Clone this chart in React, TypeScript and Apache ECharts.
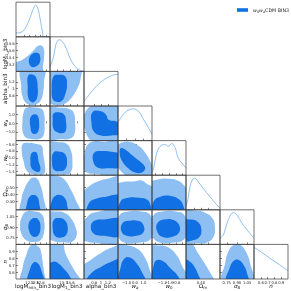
import { useEffect, useRef } from "react";
import * as echarts from "echarts";

const DARK = "#1170e4";
const LIGHT = "#8ebff3";
const LINE = "#74b0ee";
const FONT = "DejaVu Sans";

const L0 = 16, T0 = 2.2, CW = 34, CH = 34.6;

const RANGES: number[][] = [[11.9, 13.15], [13.0, 14.0], [0.5, 1.5], [-2, 2], [-1.5, -0.5], [0.18, 0.68], [0.65, 1.15], [0.5, 1.0]];
const TICKS: number[][] = [[12.2, 12.4, 12.6, 12.8, 13.0], [13.2, 13.4, 13.6, 13.8], [0.8, 1.0, 1.2], [-1, 0, 1], [-1.4, -1.2, -1.0, -0.8, -0.6], [0.3, 0.4, 0.5], [0.75, 0.9, 1.05], [0.6, 0.7, 0.8, 0.9]];
const TICK_LABELS: string[][] = [["12.2", "12.4", "12.6", "12.8", "13"], ["13.2", "13.4", "13.6", "13.8"], ["0.8", "1", "1.2"], ["\u22121.0", "0.0", "1.0"], ["\u22121.4", "\u22121.2", "\u22121.0", "\u22120.8", "\u22120.6"], ["0.30", "0.40", "0.50"], ["0.75", "0.90", "1.05"], ["0.6", "0.7", "0.8", "0.9"]];
const NAMES: string[] = ["{n|logM}{s|min}{n|_bin3}", "{n|logM}{s|1}{n|_bin3}", "{n|alpha_bin3}", "{i|w}{si|a}", "{i|w}{s|0}", "{n|\u03a9}{si|m}", "{i|\u03c3}{s|8}", "{i|n}"];

// 1D marginals
const X0 = [11.9, 12.025, 12.15, 12.275, 12.4, 12.525, 12.625, 12.71, 12.8, 12.875, 12.925, 13.15];
const Y0 = [0.12, 0.13, 0.17, 0.32, 0.56, 0.86, 1.0, 0.88, 0.5, 0.15, 0.0, 0.0];
const X1 = [13.0, 13.1, 13.18, 13.27, 13.44, 13.59, 13.74, 13.88, 14.0];
const Y1 = [0.14, 0.45, 0.87, 1.0, 0.82, 0.41, 0.15, 0.04, 0.0];
const X2 = [0.5, 0.65, 0.8, 1.0, 1.2, 1.35, 1.5];
const Y2 = [0.15, 0.35, 0.55, 0.76, 0.9, 0.97, 1.0];
const X3 = [-2, -1.4, -0.8, -0.2, 0.4, 1.0, 1.6, 2.0];
const Y3 = [0.57, 0.82, 0.96, 1.0, 0.93, 0.67, 0.4, 0.2];
const X4 = [-1.5, -1.46, -1.36, -1.26, -1.12, -1.02, -0.92, -0.82, -0.73, -0.58, -0.5];
const Y4 = [0.1, 0.17, 0.7, 0.91, 0.97, 0.91, 1.0, 0.87, 0.54, 0.33, 0.22];
const X5 = [0.18, 0.21, 0.24, 0.28, 0.31, 0.355, 0.43, 0.53, 0.605, 0.68];
const Y5 = [0.12, 0.35, 0.75, 0.97, 1.0, 0.9, 0.68, 0.42, 0.22, 0.05];
const X6 = [0.65, 0.7, 0.7725, 0.845, 0.895, 0.97, 1.0425, 1.15];
const Y6 = [0.2, 0.3, 0.78, 1.0, 0.94, 0.68, 0.47, 0.2];
const X7 = [0.5, 0.625, 0.75, 0.875, 1.0];
const Y7 = [1.0, 0.82, 0.63, 0.45, 0.26];
const MARG_X = [X0, X1, X2, X3, X4, X5, X6, X7];
const MARG_Y = [Y0, Y1, Y2, Y3, Y4, Y5, Y6, Y7];

// 2D contours: C{row}{col}_95 (outer), _68 (inner)
const C10_95 = [[11.85,13.22],[12.12,13.33],[12.34,13.45],[12.56,13.62],[12.71,13.74],[12.85,13.74],[12.93,13.62],[12.93,13.39],[12.89,13.16],[12.86,12.95],[11.85,12.95]];
const C10_68 = [[12.38,13.24],[12.41,13.42],[12.56,13.53],[12.71,13.53],[12.78,13.45],[12.78,13.27],[12.67,13.16],[12.49,13.13]];
const C20_95 = [[12.1,1.55],[12.93,1.55],[12.93,1.2],[12.9,0.9],[12.8,0.65],[12.63,0.54],[12.43,0.53],[12.25,0.6],[12.13,0.8],[12.09,1.1]];
const C20_68 = [[12.35,1.38],[12.53,1.4],[12.65,1.3],[12.7,1.0],[12.68,0.75],[12.58,0.62],[12.45,0.62],[12.35,0.75],[12.33,1.05]];
const C30_95 = [[12.28,1.8],[12.59,1.84],[12.84,1.68],[12.94,1.0],[12.95,0],[12.93,-1.2],[12.8,-1.76],[12.53,-1.84],[12.28,-1.68],[12.15,-1.0],[12.14,0.2],[12.18,1.28]];
const C30_68 = [[12.45,0.8],[12.59,1.04],[12.71,0.8],[12.75,0],[12.73,-0.8],[12.63,-1.2],[12.49,-1.12],[12.43,-0.4],[12.41,0.32]];
const C40_95 = [[12.15,-0.6],[12.4,-0.57],[12.65,-0.6],[12.84,-0.65],[12.9,-0.9],[12.96,-1.2],[12.94,-1.45],[12.65,-1.48],[12.46,-1.46],[12.28,-1.35],[12.18,-1.1],[12.11,-0.8]];
const C40_68 = [[12.46,-0.88],[12.59,-0.82],[12.68,-0.88],[12.73,-1.1],[12.8,-1.3],[12.75,-1.4],[12.59,-1.38],[12.46,-1.28],[12.43,-1.08]];
const C50_95 = [[12.09,0.15],[12.1,0.33],[12.21,0.48],[12.38,0.605],[12.53,0.645],[12.68,0.63],[12.8,0.53],[12.9,0.38],[12.93,0.15]];
const C50_68 = [[12.3,0.15],[12.31,0.28],[12.4,0.37],[12.53,0.395],[12.68,0.37],[12.75,0.28],[12.75,0.15]];
const C60_95 = [[12.28,1.125],[12.59,1.125],[12.84,1.09],[12.94,0.975],[12.93,0.825],[12.8,0.71],[12.53,0.685],[12.28,0.71],[12.1,0.8],[12.05,0.925],[12.13,1.06]];
const C60_68 = [[12.46,1.01],[12.63,1.03],[12.75,0.99],[12.8,0.9],[12.75,0.8],[12.63,0.76],[12.48,0.775],[12.38,0.85],[12.36,0.94]];
const C70_95 = [[12.1,0.47],[12.15,0.675],[12.28,0.85],[12.43,0.98],[12.59,0.995],[12.73,0.965],[12.8,0.925],[12.88,0.75],[12.93,0.6],[12.94,0.47]];
const C70_68 = [[12.35,0.47],[12.4,0.625],[12.55,0.74],[12.71,0.725],[12.85,0.6],[12.9,0.47]];
const C21_95 = [[12.95,1.55],[13.88,1.55],[13.9,1.3],[13.8,1.0],[13.6,0.7],[13.4,0.55],[13.2,0.52],[13.05,0.55],[12.95,0.6]];
const C21_68 = [[13.1,1.35],[13.25,1.4],[13.45,1.35],[13.5,1.1],[13.45,0.85],[13.35,0.65],[13.2,0.62],[13.08,0.7],[13.05,1.0]];
const C31_95 = [[12.95,1.72],[13.3,1.8],[13.55,1.68],[13.7,1.2],[13.74,0],[13.72,-1.2],[13.6,-1.76],[13.3,-1.84],[12.95,-1.76]];
const C31_68 = [[13.1,1.12],[13.25,1.28],[13.42,1.0],[13.47,0.2],[13.47,-0.8],[13.38,-1.12],[13.2,-1.0],[13.1,-0.6],[13.08,0.4]];
const C41_95 = [[12.95,-0.58],[13.3,-0.55],[13.5,-0.6],[13.62,-0.8],[13.66,-1.1],[13.62,-1.4],[13.5,-1.47],[13.2,-1.48],[12.95,-1.47]];
const C41_68 = [[13.1,-0.85],[13.3,-0.82],[13.45,-0.9],[13.5,-1.1],[13.45,-1.32],[13.3,-1.38],[13.12,-1.35],[13.06,-1.15]];
const C51_95 = [[12.95,0.655],[13.25,0.665],[13.45,0.605],[13.6,0.48],[13.75,0.33],[13.85,0.155],[12.95,0.155]];
const C51_68 = [[13.03,0.155],[13.05,0.305],[13.15,0.38],[13.3,0.395],[13.45,0.34],[13.5,0.255],[13.5,0.155]];
const C61_95 = [[12.95,1.1],[13.2,1.125],[13.45,1.1],[13.62,1.025],[13.75,0.9],[13.78,0.775],[13.65,0.69],[13.35,0.68],[13.1,0.7],[12.95,0.75]];
const C61_68 = [[13.12,1.01],[13.3,1.03],[13.45,0.99],[13.52,0.9],[13.48,0.79],[13.33,0.75],[13.15,0.77],[13.08,0.875]];
const C71_95 = [[12.95,1.03],[13.35,1.03],[13.45,0.875],[13.6,0.725],[13.75,0.6],[13.88,0.47],[12.95,0.47]];
const C71_68 = [[12.95,0.47],[12.95,0.7],[13.1,0.75],[13.25,0.725],[13.4,0.65],[13.55,0.56],[13.62,0.47]];
const C32_95 = [[0.45,0.2],[0.53,1.2],[0.65,1.85],[0.8,2.2],[1.55,2.2],[1.55,-2.2],[0.8,-2.2],[0.62,-1.6],[0.52,-0.6]];
const C32_68 = [[0.75,1.28],[1.0,1.4],[1.15,1.0],[1.22,0.4],[1.45,0.2],[1.55,-0.2],[1.55,-1.2],[1.3,-1.4],[1.0,-1.4],[0.8,-1.0],[0.72,0]];
const C42_95 = [[0.5,-1.3],[0.53,-0.8],[0.7,-0.55],[1.1,-0.53],[1.55,-0.53],[1.55,-1.47],[0.8,-1.46],[0.58,-1.42]];
const C42_68 = [[0.8,-0.85],[1.05,-0.8],[1.3,-0.82],[1.55,-0.9],[1.55,-1.25],[1.2,-1.3],[0.9,-1.28],[0.77,-1.1]];
const C52_95 = [[0.45,0.155],[0.45,0.405],[0.65,0.52],[0.9,0.59],[1.2,0.63],[1.55,0.645],[1.55,0.155]];
const C52_68 = [[0.62,0.155],[0.65,0.28],[0.85,0.34],[1.15,0.37],[1.55,0.38],[1.55,0.155]];
const C62_95 = [[0.45,0.725],[0.45,0.95],[0.6,1.05],[0.8,1.11],[1.55,1.125],[1.55,0.675],[0.8,0.675],[0.6,0.69]];
const C62_68 = [[0.7,0.9],[0.8,0.99],[1.1,1.01],[1.55,1.01],[1.55,0.775],[1.1,0.775],[0.8,0.8]];
const C72_95 = [[0.45,0.475],[0.45,0.675],[0.7,0.775],[1.0,0.875],[1.3,0.95],[1.55,0.975],[1.55,0.475]];
const C72_68 = [[0.6,0.475],[0.75,0.6],[1.0,0.675],[1.3,0.75],[1.55,0.775],[1.55,0.475]];
const C43_95 = [[-1.92,-0.6],[-0.8,-0.53],[0.4,-0.65],[1.2,-0.85],[1.8,-1.1],[2.2,-1.35],[2.2,-1.55],[-0.4,-1.55],[-1.6,-1.4],[-2.2,-1.1],[-2.2,-0.7]];
const C43_68 = [[-1.68,-0.72],[-1.2,-0.75],[-0.2,-0.95],[0.8,-1.15],[1.2,-1.3],[0.8,-1.42],[0,-1.42],[-0.8,-1.3],[-1.6,-1.05],[-1.8,-0.85]];
const C53_95 = [[-2.2,0.155],[-2.2,0.53],[-1.4,0.58],[-0.2,0.59],[0.8,0.605],[1.4,0.555],[2.2,0.48],[2.2,0.155]];
const C53_68 = [[-1.8,0.155],[-1.68,0.305],[-0.8,0.355],[0.4,0.355],[1.4,0.33],[1.8,0.255],[1.8,0.155]];
const C63_95 = [[-1.8,1.075],[-0.8,1.125],[0.8,1.125],[1.8,1.075],[2.08,0.9],[1.8,0.725],[0.4,0.675],[-1.2,0.675],[-1.92,0.75],[-2.08,0.925]];
const C63_68 = [[-1.52,0.95],[-0.8,0.99],[0.4,0.99],[1.0,0.925],[1.0,0.825],[0.2,0.775],[-1.0,0.775],[-1.6,0.84]];
const C73_95 = [[-2.2,0.475],[-2.2,0.975],[-0.8,0.985],[0.4,0.925],[1.2,0.8],[1.68,0.65],[1.88,0.475]];
const C73_68 = [[-1.8,0.475],[-1.68,0.675],[-1.2,0.8],[-0.6,0.81],[0.2,0.725],[0.8,0.6],[1.12,0.475]];
const C54_95 = [[-1.55,0.155],[-1.55,0.555],[-1.3,0.62],[-1.0,0.63],[-0.75,0.605],[-0.55,0.53],[-0.45,0.43],[-0.45,0.155]];
const C54_68 = [[-1.47,0.155],[-1.45,0.305],[-1.25,0.37],[-0.95,0.38],[-0.7,0.33],[-0.58,0.24],[-0.58,0.155]];
const C64_95 = [[-1.45,1.075],[-1.2,1.125],[-0.8,1.125],[-0.55,1.075],[-0.48,0.9],[-0.55,0.725],[-0.9,0.675],[-1.25,0.675],[-1.47,0.75],[-1.52,0.925]];
const C64_68 = [[-1.35,0.95],[-1.15,1.01],[-0.85,1.0],[-0.7,0.925],[-0.7,0.825],[-0.9,0.76],[-1.2,0.76],[-1.35,0.84]];
const C74_95 = [[-1.55,0.475],[-1.55,0.95],[-1.25,0.985],[-1.0,0.95],[-0.75,0.825],[-0.6,0.675],[-0.45,0.55],[-0.45,0.475]];
const C74_68 = [[-1.47,0.475],[-1.45,0.7],[-1.35,0.775],[-1.15,0.75],[-0.95,0.65],[-0.75,0.55],[-0.7,0.475]];
const C65_95 = [[0.155,1.125],[0.33,1.135],[0.455,1.11],[0.57,1.025],[0.605,0.9],[0.58,0.75],[0.48,0.675],[0.33,0.665],[0.155,0.675]];
const C65_68 = [[0.155,0.99],[0.255,1.01],[0.355,0.975],[0.405,0.875],[0.38,0.76],[0.28,0.71],[0.155,0.71]];
const C75_95 = [[0.155,0.475],[0.155,1.025],[0.255,1.025],[0.355,0.875],[0.455,0.725],[0.53,0.6],[0.58,0.475]];
const C75_68 = [[0.155,0.475],[0.155,0.775],[0.24,0.75],[0.305,0.675],[0.355,0.575],[0.38,0.475]];
const C76_95 = [[0.69,0.475],[0.725,0.725],[0.775,0.9],[0.85,0.99],[0.95,0.99],[1.04,0.875],[1.1,0.7],[1.135,0.475]];
const C76_68 = [[0.75,0.475],[0.79,0.65],[0.85,0.76],[0.925,0.775],[1.0,0.7],[1.05,0.575],[1.06,0.475]];

const PANELS: [number, number, number[][], number[][]][] = [
  [1, 0, C10_95, C10_68],
  [2, 0, C20_95, C20_68], [2, 1, C21_95, C21_68],
  [3, 0, C30_95, C30_68], [3, 1, C31_95, C31_68], [3, 2, C32_95, C32_68],
  [4, 0, C40_95, C40_68], [4, 1, C41_95, C41_68], [4, 2, C42_95, C42_68], [4, 3, C43_95, C43_68],
  [5, 0, C50_95, C50_68], [5, 1, C51_95, C51_68], [5, 2, C52_95, C52_68], [5, 3, C53_95, C53_68], [5, 4, C54_95, C54_68],
  [6, 0, C60_95, C60_68], [6, 1, C61_95, C61_68], [6, 2, C62_95, C62_68], [6, 3, C63_95, C63_68], [6, 4, C64_95, C64_68], [6, 5, C65_95, C65_68],
  [7, 0, C70_95, C70_68], [7, 1, C71_95, C71_68], [7, 2, C72_95, C72_68], [7, 3, C73_95, C73_68], [7, 4, C74_95, C74_68], [7, 5, C75_95, C75_68], [7, 6, C76_95, C76_68],
];

const LEGEND_NAME = "w0waCDM BIN3";

const NAME_RICH = {
  n: { fontSize: 5.6, fontFamily: FONT, color: "#111" },
  i: { fontSize: 5.6, fontFamily: FONT, fontStyle: "italic", color: "#111" },
  s: { fontSize: 4, fontFamily: FONT, color: "#111", verticalAlign: "bottom", lineHeight: 6.5 },
  si: { fontSize: 4, fontFamily: FONT, fontStyle: "italic", color: "#111", verticalAlign: "bottom", lineHeight: 6.5 },
};

function fmt(p: number) {
  return (v: number) => {
    const k = TICKS[p].findIndex((t) => Math.abs(t - v) < 1e-6);
    return k >= 0 ? TICK_LABELS[p][k] : "";
  };
}

function axis(p: number, g: number, showLabel: boolean, isY: boolean) {
  return {
    gridIndex: g,
    type: "value",
    min: RANGES[p][0],
    max: RANGES[p][1],
    axisLine: { show: false },
    splitLine: { show: false },
    axisTick: { show: true, inside: true, length: 2, customValues: TICKS[p], lineStyle: { color: "#333", width: 0.6 } },
    axisLabel: {
      show: showLabel,
      customValues: TICKS[p],
      formatter: fmt(p),
      fontSize: 3.8,
      fontFamily: FONT,
      color: "#222",
      margin: isY ? 1.3 : 1.2,
    },
    name: showLabel ? NAMES[p] : "",
    nameLocation: "middle",
    nameGap: isY ? 8 : 4.2,
    nameMoveOverlap: false,
    nameRotate: isY ? 90 : 0,
    nameTextStyle: { rich: NAME_RICH, fontSize: 5.6, fontFamily: FONT, color: "#111" },
  };
}

export default function App() {
  const ref = useRef<HTMLDivElement>(null);
  useEffect(() => {
    const chart = echarts.init(ref.current!, undefined, { renderer: "svg" });
    const grid: any[] = [];
    const xAxis: any[] = [];
    const yAxis: any[] = [];
    const series: any[] = [];
    const graphic: any[] = [];
    const gidx: Record<string, number> = {};
    let g = 0;
    for (let i = 0; i < 8; i++) {
      for (let j = 0; j <= i; j++) {
        const left = L0 + CW * j;
        const top = T0 + CH * i;
        grid.push({ left, top, width: CW, height: CH, containLabel: false, outerBoundsMode: "none" });
        xAxis.push(axis(j, g, i === 7, false));
        if (i === j) {
          yAxis.push({ gridIndex: g, type: "value", min: 0, max: 1.09, show: false });
        } else {
          yAxis.push(axis(i, g, j === 0, true));
        }
        graphic.push({
          type: "rect",
          silent: true,
          z: 100,
          shape: { x: left, y: top, width: CW, height: CH },
          style: { fill: "none", stroke: "#333", lineWidth: 0.7 },
        });
        gidx[i + "-" + j] = g;
        g++;
      }
    }
    for (let p = 0; p < 8; p++) {
      const gi = gidx[p + "-" + p];
      series.push({
        type: "line",
        xAxisIndex: gi,
        yAxisIndex: gi,
        data: MARG_X[p].map((x, k) => [x, MARG_Y[p][k]]),
        smooth: 0.35,
        showSymbol: false,
        clip: true,
        silent: true,
        lineStyle: { color: LINE, width: 0.8 },
      });
    }
    const poly = (pts: number[][], color: string, gi: number, name?: string) => ({
      type: "custom",
      name,
      xAxisIndex: gi,
      yAxisIndex: gi,
      clip: true,
      silent: true,
      itemStyle: { color },
      data: pts,
      encode: { x: 0, y: 1 },
      renderItem: (params: any, api: any) => {
        if (params.dataIndex !== 0) return null;
        const points = pts.map((pt) => api.coord(pt));
        return { type: "polygon", shape: { points, smooth: 0.45 }, style: { fill: color } };
      },
    });
    for (const [i, j, c95, c68] of PANELS) {
      const gi = gidx[i + "-" + j];
      series.push(poly(c95, LIGHT, gi));
      series.push(poly(c68, DARK, gi, LEGEND_NAME));
    }
    chart.setOption({
      animation: false,
      grid,
      xAxis,
      yAxis,
      series,
      graphic,
      legend: {
        data: [{ name: LEGEND_NAME, icon: "rect" }],
        left: 232,
        top: 2.5,
        itemWidth: 11,
        itemHeight: 3.6,
        itemGap: 2,
        selectedMode: false,
        formatter: () => "{i|w}{s|0}{i|w}{si|a}{n|CDM BIN3}",
        textStyle: {
          fontSize: 5,
          fontFamily: FONT,
          color: "#222",
          rich: {
            n: { fontSize: 4.8, fontFamily: FONT, color: "#222" },
            i: { fontSize: 4.8, fontFamily: FONT, fontStyle: "italic", color: "#222" },
            s: { fontSize: 3.4, fontFamily: FONT, color: "#222", verticalAlign: "bottom", lineHeight: 7 },
            si: { fontSize: 3.4, fontFamily: FONT, fontStyle: "italic", color: "#222", verticalAlign: "bottom", lineHeight: 7 },
          },
        },
      },
    });
    return () => chart.dispose();
  }, []);
  return <div ref={ref} style={{ position: "fixed", left: 0, top: 0, width: 291, height: 291 }} />;
}
